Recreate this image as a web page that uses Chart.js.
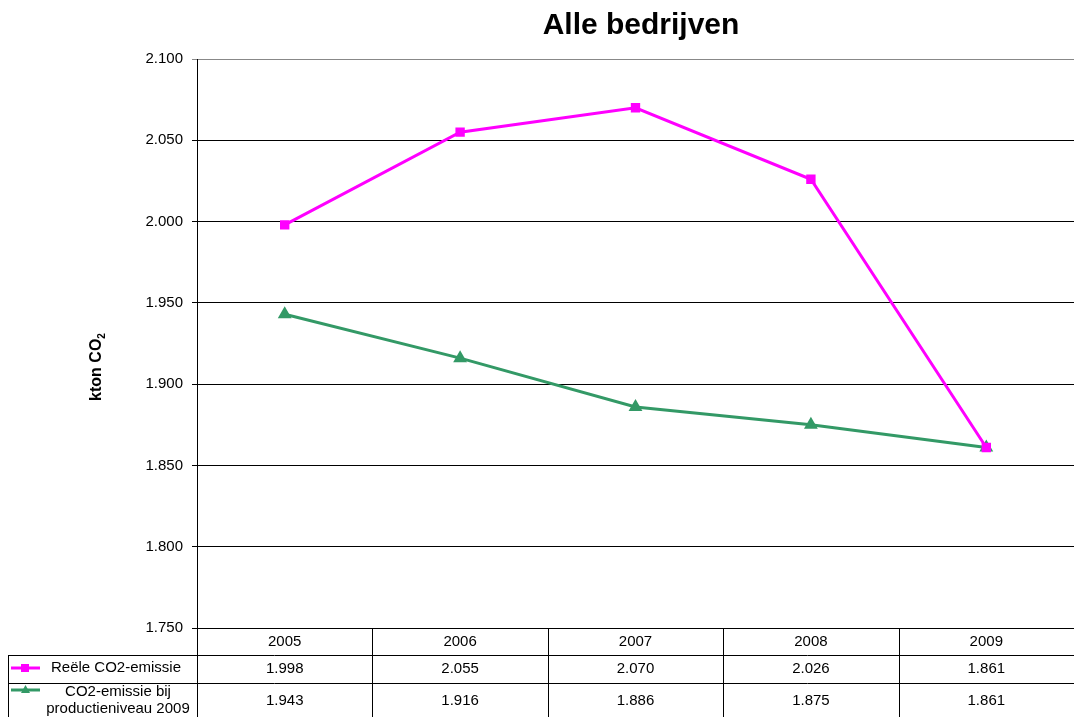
<!DOCTYPE html>
<html>
<head>
<meta charset="utf-8">
<script src="https://cdn.jsdelivr.net/npm/chart.js@4.4.1/dist/chart.umd.min.js"></script>
<style>
  html, body { margin: 0; padding: 0; background: #fff; overflow: hidden; }
  canvas { display: block; }
</style>
</head>
<body>
<canvas id="c" width="1074" height="717"></canvas>
<script>
// data
const years = ['2005', '2006', '2007', '2008', '2009'];
const reeel = [1998, 2055, 2070, 2026, 1861];
const bijProductie = [1943, 1916, 1886, 1875, 1861];
const seriesNames = ['Reële CO2-emissie', ['CO2-emissie bij', 'productieniveau 2009']];

const MAGENTA = '#ff00ff';
const GREEN = '#339966';
const FONT = "'Liberation Sans', Arial, sans-serif";

// 2100 -> "2.100"
const fmt = (v) => v.toLocaleString('nl-NL');

// titel, as-titel en datatabel onder de grafiek
const tablePlugin = {
    id: 'dataTable',
    afterDraw: (chart) => {
        const ctx = chart.ctx;
        const area = chart.chartArea;
        const x = chart.scales.x;
        const colW = (area.right - area.left) / years.length;
        const rows = [area.bottom, 655, 683, 717];

        ctx.save();
        // titel
        ctx.fillStyle = '#000';
        ctx.font = "bold 30px " + FONT;
        ctx.textAlign = 'center';
        ctx.textBaseline = 'middle';
        ctx.fillText('Alle bedrijven', 641, 26);

        // y-as titel (met subscript 2)
        ctx.save();
        ctx.translate(97, 367);
        ctx.rotate(-Math.PI / 2);
        ctx.font = "bold 16px " + FONT;
        const main = 'kton CO';
        const w = ctx.measureText(main).width;
        ctx.font = "bold 10px " + FONT;
        const w2 = ctx.measureText('2').width;
        const start = -(w + w2) / 2;
        ctx.textAlign = 'left';
        ctx.font = "bold 16px " + FONT;
        ctx.fillText(main, start, 0);
        ctx.font = "bold 10px " + FONT;
        ctx.fillText('2', start + w, 5);
        ctx.restore();

        // lijnen
        ctx.strokeStyle = '#000';
        ctx.lineWidth = 1;
        ctx.beginPath();
        ctx.moveTo(8, rows[1] + 0.5); ctx.lineTo(area.right, rows[1] + 0.5);
        ctx.moveTo(8, rows[2] + 0.5); ctx.lineTo(area.right, rows[2] + 0.5);
        ctx.moveTo(8.5, rows[1]); ctx.lineTo(8.5, rows[3]);
        for (let i = 0; i < years.length; i++) {
            const lx = Math.round(area.left + colW * i) + 0.5;
            ctx.moveTo(lx, rows[0]); ctx.lineTo(lx, rows[3]);
        }
        ctx.stroke();

        // tekst
        ctx.font = "15px " + FONT;
        ctx.textAlign = 'center';
        years.forEach((y, i) => {
            const cx = x.getPixelForValue(i);
            ctx.fillText(y, cx, 642);
            ctx.fillText(fmt(reeel[i]), cx, 669);
            ctx.fillText(fmt(bijProductie[i]), cx, 701);
        });

        // legenda
        const legend = [
            { color: MAGENTA, style: 'rect', y: 668, label: seriesNames[0], tx: 116 },
            { color: GREEN, style: 'tri', y: 690, label: seriesNames[1], tx: 118 },
        ];
        legend.forEach((l) => {
            ctx.strokeStyle = l.color;
            ctx.fillStyle = l.color;
            ctx.lineWidth = 3;
            ctx.beginPath();
            ctx.moveTo(11, l.y); ctx.lineTo(40, l.y);
            ctx.stroke();
            ctx.beginPath();
            if (l.style === 'rect') {
                ctx.rect(21, l.y - 4, 8, 8);
            } else {
                ctx.moveTo(25.5, l.y - 5); ctx.lineTo(30, l.y + 3); ctx.lineTo(21, l.y + 3);
                ctx.closePath();
            }
            ctx.fill();
            ctx.fillStyle = '#000';
            ctx.font = "15px " + FONT;
            if (Array.isArray(l.label)) {
                ctx.fillText(l.label[0], l.tx, 692);
                ctx.fillText(l.label[1], l.tx, 709);
            } else {
                ctx.fillText(l.label, l.tx, l.y);
            }
        });
        ctx.restore();
    },
};

new Chart(document.getElementById('c'), {
    type: 'line',
    data: {
        labels: years,
        datasets: [
            {
                label: 'Reële CO2-emissie',
                data: reeel,
                borderColor: MAGENTA,
                backgroundColor: MAGENTA,
                borderWidth: 3,
                pointStyle: 'rect',
                pointRadius: 4.5,
                tension: 0,
            },
            {
                label: 'CO2-emissie bij productieniveau 2009',
                data: bijProductie,
                borderColor: GREEN,
                backgroundColor: GREEN,
                borderWidth: 3,
                pointStyle: 'triangle',
                pointRadius: 5,
                tension: 0,
            },
        ],
    },
    options: {
        responsive: false,
        animation: false,
        layout: { autoPadding: false, padding: { top: 59, right: 0, bottom: 89, left: 0 } },
        plugins: {
            legend: { display: false },
            tooltip: { enabled: false },
            title: { display: false },
        },
        scales: {
            x: {
                display: false,
                offset: true,
            },
            y: {
                min: 1750,
                max: 2100,
                ticks: {
                    stepSize: 50,
                    color: '#000',
                    font: { family: FONT, size: 15 },
                    padding: 9,
                    callback: (v) => fmt(v),
                },
                grid: {
                    color: (c) => (c.tick && c.tick.value === 2100 ? '#888' : '#000'),
                    tickLength: 5,
                    lineWidth: 1,
                },
                border: { display: true, color: '#000', width: 1 },
                afterFit: (scale) => { scale.width = 197; },
            },
        },
    },
    plugins: [tablePlugin],
});
</script>
</body>
</html>
